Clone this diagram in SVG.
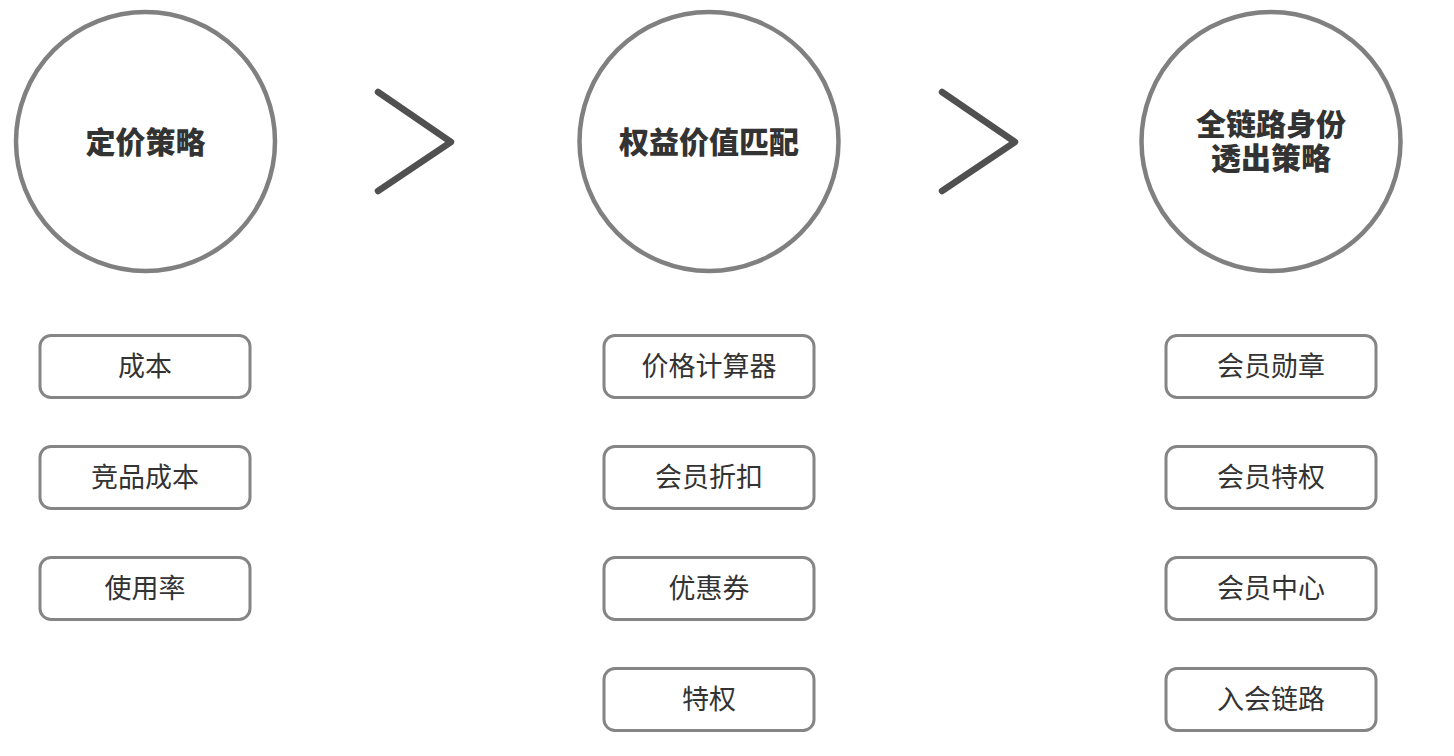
<svg xmlns="http://www.w3.org/2000/svg" width="1454" height="756" viewBox="0 0 1454 756">
<style>
.circ{fill:#fff;stroke:#808080;stroke-width:4.5}
.box{fill:#fff;stroke:#858585;stroke-width:3}
.chev{fill:none;stroke:#505050;stroke-width:6.5;stroke-linecap:round;stroke-linejoin:round}
.title{font-family:"Noto Sans CJK SC","Noto Sans",sans-serif;font-weight:900;font-size:30px;fill:#333;text-anchor:middle}
.lbl{font-family:"Noto Sans CJK SC","Noto Sans",sans-serif;font-size:27px;fill:#333;text-anchor:middle}
</style>
<rect width="1454" height="756" fill="#fff"/>
<g id="connectors">
<polyline class="chev" points="378,92 451,142 378,191"/>
<polyline class="chev" points="942,92 1015,142 942,191"/>
</g>
<g id="node-pricing">
<circle class="circ" cx="145.5" cy="141.5" r="129.5"/>
<text class="title" x="145.5" y="153">定价策略</text>
</g>
<g id="node-rights">
<circle class="circ" cx="709" cy="141.5" r="129.5"/>
<text class="title" x="709" y="153">权益价值匹配</text>
</g>
<g id="node-identity">
<circle class="circ" cx="1271" cy="141.5" r="129.5"/>
<text class="title"><tspan x="1271" y="135">全链路身份</tspan><tspan x="1271" y="169">透出策略</tspan></text>
</g>
<g id="box-cost"><rect class="box" x="40" y="335.5" width="210" height="62" rx="11"/><text class="lbl" x="145" y="376">成本</text></g>
<g id="box-compcost"><rect class="box" x="40" y="446.5" width="210" height="62" rx="11"/><text class="lbl" x="145" y="487">竞品成本</text></g>
<g id="box-usage"><rect class="box" x="40" y="557.5" width="210" height="62" rx="11"/><text class="lbl" x="145" y="598">使用率</text></g>
<g id="box-calc"><rect class="box" x="604" y="335.5" width="210" height="62" rx="11"/><text class="lbl" x="709" y="376">价格计算器</text></g>
<g id="box-discount"><rect class="box" x="604" y="446.5" width="210" height="62" rx="11"/><text class="lbl" x="709" y="487">会员折扣</text></g>
<g id="box-coupon"><rect class="box" x="604" y="557.5" width="210" height="62" rx="11"/><text class="lbl" x="709" y="598">优惠券</text></g>
<g id="box-privilege"><rect class="box" x="604" y="668.5" width="210" height="62" rx="11"/><text class="lbl" x="709" y="709">特权</text></g>
<g id="box-badge"><rect class="box" x="1166" y="335.5" width="210" height="62" rx="11"/><text class="lbl" x="1271" y="376">会员勋章</text></g>
<g id="box-memberpriv"><rect class="box" x="1166" y="446.5" width="210" height="62" rx="11"/><text class="lbl" x="1271" y="487">会员特权</text></g>
<g id="box-center"><rect class="box" x="1166" y="557.5" width="210" height="62" rx="11"/><text class="lbl" x="1271" y="598">会员中心</text></g>
<g id="box-join"><rect class="box" x="1166" y="668.5" width="210" height="62" rx="11"/><text class="lbl" x="1271" y="709">入会链路</text></g>
</svg>
